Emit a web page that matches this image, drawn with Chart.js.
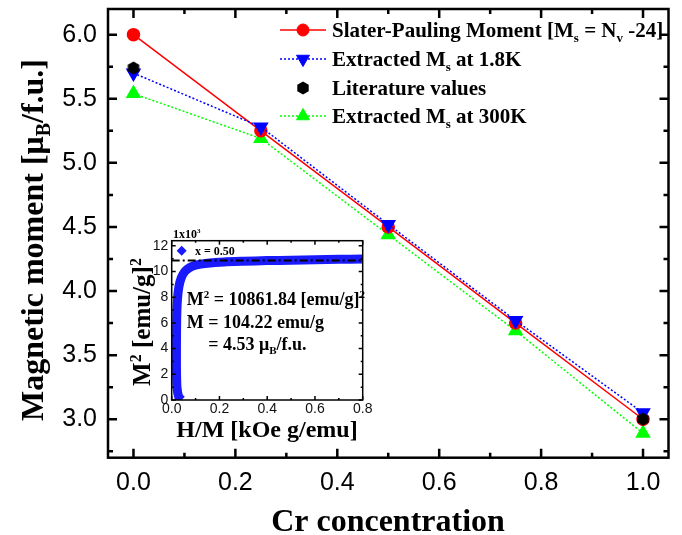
<!DOCTYPE html>
<html>
<head>
<meta charset="utf-8">
<script src="https://cdn.jsdelivr.net/npm/chart.js@4.4.1/dist/chart.umd.min.js"></script>
<style>
  body { margin: 0; background: #fff; }
  #wrap { position: relative; width: 682px; height: 535px; }
  #main { position: absolute; left: 0; top: 0; }
  #inset { position: absolute; left: 120px; top: 222px; }
</style>
</head>
<body>
<div id="wrap">
  <canvas id="main" width="682" height="535"></canvas>
  <canvas id="inset" width="255" height="225"></canvas>
</div>
<script>
// Cr content and moments (muB per formula unit)
var crConc = [0, 0.25, 0.5, 0.75, 1.0];
var slaterPauling = [6.0, 5.25, 4.5, 3.75, 3.0];
var msLowT = [5.70, 5.28, 4.52, 3.77, 3.05];
var msRoomT = [5.54, 5.19, 4.44, 3.69, 2.89];
var litConc = [0, 1.0];
var litMoment = [5.74, 3.0];

var xTickValues = [0, 0.2, 0.4, 0.6, 0.8, 1.0];
var yTickValues = [3.0, 3.5, 4.0, 4.5, 5.0, 5.5, 6.0];

// Arrott plot for x = 0.50 (M^2 in units of 1x10^3)
var hmInset = [0.042, 0.030, 0.022, 0.020, 0.020, 0.021, 0.024, 0.030, 0.040, 0.055, 0.075, 0.10, 0.15, 0.22, 0.30, 0.40, 0.50, 0.60, 0.70, 0.80];
var m2Inset = [0.0, 0.2, 1.0, 2.5, 4.5, 6.5, 7.8, 8.8, 9.5, 10.0, 10.3, 10.5, 10.65, 10.75, 10.8, 10.85, 10.88, 10.92, 10.95, 10.98];
var m2Fit = 10861.84 / 1000;
var hmFit = [0, 0.8];
var insetXTicks = [0, 0.2, 0.4, 0.6, 0.8];
var insetYTicks = [0, 2, 4, 6, 8, 10, 12];

var SERIF = '"Liberation Serif", "Times New Roman", serif';
var SANS = '"Liberation Sans", Arial, sans-serif';

function xy(xs, ys) {
    return xs.map(function (v, i) { return { x: v, y: ys[i] }; });
}

function fixedTicks(values) {
    return function (s) {
        s.ticks = values.map(function (v) { return { value: v }; });
    };
}

// keep the plot area where the layout puts it (no extra room for half labels)
function noLabelPadding(size, prop) {
    return function (s) {
        s[prop] = size;
        s.paddingTop = 0; s.paddingBottom = 0;
        s.paddingLeft = 0; s.paddingRight = 0;
    };
}

// black hexagon marker
var hex = document.createElement('canvas');
hex.width = 14; hex.height = 14;
(function () {
    var c = hex.getContext('2d');
    c.fillStyle = '#000';
    c.beginPath();
    for (var k = 0; k < 6; k++) {
        var a = Math.PI / 3 * k;
        c.lineTo(7 + 6.6 * Math.sin(a), 7 - 6.6 * Math.cos(a));
    }
    c.closePath();
    c.fill();
})();

// text with sub/superscripts: parts = [[text, 0 normal | 1 sub | 2 sup], ...]
function richText(ctx, parts, x, y, size, align) {
    var small = Math.round(size * 0.62);
    var w = 0;
    parts.forEach(function (p) {
        ctx.font = 'bold ' + (p[1] ? small : size) + 'px ' + SERIF;
        w += ctx.measureText(p[0]).width;
    });
    var cx = align === 'center' ? x - w / 2 : x;
    ctx.textAlign = 'left';
    ctx.textBaseline = 'alphabetic';
    parts.forEach(function (p) {
        ctx.font = 'bold ' + (p[1] ? small : size) + 'px ' + SERIF;
        var dy = p[1] === 1 ? size * 0.22 : (p[1] === 2 ? -size * 0.38 : 0);
        ctx.fillText(p[0], cx, y + dy);
        cx += ctx.measureText(p[0]).width;
    });
}

function frameTicks(chart, lw, major, minor) {
    var ctx = chart.ctx, a = chart.chartArea;
    ctx.save();
    ctx.strokeStyle = '#000';
    ctx.lineWidth = lw;
    ctx.strokeRect(a.left, a.top, a.right - a.left, a.bottom - a.top);
    ['x', 'y'].forEach(function (id) {
        var s = chart.scales[id];
        var vals = s.ticks.map(function (t) { return t.value; });
        var step = vals[1] - vals[0];
        var minors = [];
        for (var i = -1; i < vals.length; i++) {
            var m = (i < 0 ? vals[0] - step : vals[i]) + step / 2;
            if (m > s.min && m < s.max) minors.push(m);
        }
        ctx.beginPath();
        [[vals, major], [minors, minor]].forEach(function (set) {
            set[0].forEach(function (v) {
                var p = s.getPixelForValue(v);
                if (id === 'x') {
                    ctx.moveTo(p, a.bottom); ctx.lineTo(p, a.bottom - set[1]);
                    ctx.moveTo(p, a.top); ctx.lineTo(p, a.top + set[1]);
                } else {
                    ctx.moveTo(a.left, p); ctx.lineTo(a.left + set[1], p);
                    ctx.moveTo(a.right, p); ctx.lineTo(a.right - set[1], p);
                }
            });
        });
        ctx.stroke();
    });
    ctx.restore();
}

var legendRows = [
    { parts: [['Slater-Pauling Moment [M', 0], ['s', 1], [' = N', 0], ['v', 1], [' -24]', 0]], color: '#ff0000', dash: [], line: true, style: 'circle', r: 6, rot: 0 },
    { parts: [['Extracted M', 0], ['s', 1], [' at 1.8K', 0]], color: '#0000ff', dash: [2, 2], line: true, style: 'triangle', r: 7.5, rot: 180 },
    { parts: [['Literature values', 0]], color: '#000', dash: [], line: false, style: hex, r: 6, rot: 0 },
    { parts: [['Extracted M', 0], ['s', 1], [' at 300K', 0]], color: '#00ff00', dash: [2, 2], line: true, style: 'triangle', r: 7.5, rot: 0 }
];
var legendY = [30, 59, 88, 116];

var mainDecor = {
    id: 'mainDecor',
    afterDraw: function (chart) {
        var ctx = chart.ctx;
        frameTicks(chart, 2.5, 9, 5);
        ctx.save();
        ctx.fillStyle = '#000';
        richText(ctx, [['Cr concentration', 0]], 388, 531, 32, 'center');
        ctx.save();
        ctx.translate(43, 240);
        ctx.rotate(-Math.PI / 2);
        richText(ctx, [['Magnetic moment [μ', 0], ['B', 1], ['/f.u.]', 0]], 0, 0, 32, 'center');
        ctx.restore();

        legendRows.forEach(function (row, i) {
            var y = legendY[i];
            if (row.line) {
                ctx.save();
                ctx.strokeStyle = row.color;
                ctx.lineWidth = 1.5;
                ctx.setLineDash(row.dash);
                ctx.beginPath();
                ctx.moveTo(280, y); ctx.lineTo(326, y);
                ctx.stroke();
                ctx.restore();
            }
            ctx.fillStyle = row.color;
            ctx.strokeStyle = row.color;
            Chart.helpers.drawPoint(ctx, { pointStyle: row.style, radius: row.r, rotation: row.rot, borderWidth: 1 }, 303, y);
            ctx.fillStyle = '#000';
            richText(ctx, row.parts, 332, y + 7, 21, 'left');
        });
        ctx.restore();
    }
};

new Chart(document.getElementById('main'), {
    type: 'line',
    data: {
        datasets: [{
            label: 'Literature values',
            data: xy(litConc, litMoment),
            showLine: false,
            pointStyle: hex,
            order: 0
        }, {
            label: 'Extracted Ms at 1.8K',
            data: xy(crConc, msLowT),
            borderColor: '#0000ff',
            backgroundColor: '#0000ff',
            borderWidth: 1.5,
            borderDash: [2, 2],
            pointStyle: 'triangle',
            rotation: 180,
            pointRadius: 7.5,
            order: 1
        }, {
            label: 'Slater-Pauling Moment',
            data: xy(crConc, slaterPauling),
            borderColor: '#ff0000',
            backgroundColor: '#ff0000',
            borderWidth: 1.5,
            pointStyle: 'circle',
            pointRadius: 6,
            order: 2
        }, {
            label: 'Extracted Ms at 300K',
            data: xy(crConc, msRoomT),
            borderColor: '#00ff00',
            backgroundColor: '#00ff00',
            borderWidth: 1.5,
            borderDash: [2, 2],
            pointStyle: 'triangle',
            pointRadius: 7.5,
            order: 3
        }]
    },
    options: {
        responsive: false,
        animation: false,
        layout: { padding: { top: 7.5, right: 13.5, left: 0, bottom: 0 } },
        plugins: { legend: { display: false }, tooltip: { enabled: false } },
        scales: {
            x: {
                type: 'linear', min: -0.05, max: 1.05,
                grid: { display: false, drawTicks: false },
                border: { display: false },
                afterBuildTicks: fixedTicks(xTickValues),
                ticks: {
                    autoSkip: false, maxRotation: 0,
                    padding: 10, color: '#000', font: { family: SANS, size: 25 },
                    callback: function (v) { return v.toFixed(1); }
                },
                afterFit: noLabelPadding(77.3, 'height')
            },
            y: {
                min: 2.7, max: 6.2,
                grid: { display: false, drawTicks: false },
                border: { display: false },
                afterBuildTicks: fixedTicks(yTickValues),
                ticks: {
                    autoSkip: false,
                    padding: 11, color: '#000', font: { family: SANS, size: 25 },
                    callback: function (v) { return v.toFixed(1); }
                },
                afterFit: noLabelPadding(108, 'width')
            }
        }
    },
    plugins: [mainDecor]
});

// inset: Arrott plot
var insetDecor = {
    id: 'insetDecor',
    afterDraw: function (chart) {
        var ctx = chart.ctx;
        frameTicks(chart, 1.5, 4, 2);
        ctx.save();
        ctx.fillStyle = '#000';
        richText(ctx, [['1x10', 0], ['3', 2]], 53, 16, 12, 'left');
        richText(ctx, [['H/M [kOe g/emu]', 0]], 147, 215, 24, 'center');
        ctx.save();
        ctx.translate(30, 100);
        ctx.rotate(-Math.PI / 2);
        richText(ctx, [['M', 0], ['2', 2], [' [emu/g]', 0], ['2', 2]], 0, 0, 25, 'center');
        ctx.restore();

        richText(ctx, [['M', 0], ['2', 2], [' = 10861.84 [emu/g]', 0], ['2', 2]], 66.7, 83, 18, 'left');
        richText(ctx, [['M = 104.22 emu/g', 0]], 66.7, 106, 18, 'left');
        richText(ctx, [['= 4.53 μ', 0], ['B', 1], ['/f.u.', 0]], 88.3, 128, 18, 'left');

        ctx.fillStyle = '#1a1aff';
        Chart.helpers.drawPoint(ctx, { pointStyle: 'rectRot', radius: 5, rotation: 0, borderWidth: 0 }, 61.7, 28.7);
        ctx.fillStyle = '#000';
        richText(ctx, [['x = 0.50', 0]], 75, 33, 12, 'left');
        ctx.restore();
    }
};

new Chart(document.getElementById('inset'), {
    type: 'line',
    data: {
        datasets: [{
            label: 'fit',
            data: xy(hmFit, [m2Fit, m2Fit]),
            borderColor: '#000',
            borderWidth: 2,
            borderDash: [8, 3, 2, 3],
            pointRadius: 0,
            order: 0
        }, {
            label: 'x = 0.50',
            data: xy(hmInset, m2Inset),
            borderColor: '#1a1aff',
            borderWidth: 9,
            pointRadius: 0,
            tension: 0.2,
            order: 1
        }]
    },
    options: {
        responsive: false,
        animation: false,
        layout: { padding: { top: 18.7, right: 12.3, left: 0, bottom: 0 } },
        plugins: { legend: { display: false }, tooltip: { enabled: false } },
        scales: {
            x: {
                type: 'linear', min: 0, max: 0.8,
                grid: { display: false, drawTicks: false },
                border: { display: false },
                afterBuildTicks: fixedTicks(insetXTicks),
                ticks: {
                    autoSkip: false, maxRotation: 0,
                    padding: 1, color: '#111', font: { family: SANS, size: 14 },
                    callback: function (v) { return v.toFixed(1); }
                },
                afterFit: noLabelPadding(47, 'height')
            },
            y: {
                min: 0, max: 12.4,
                grid: { display: false, drawTicks: false },
                border: { display: false },
                afterBuildTicks: fixedTicks(insetYTicks),
                ticks: {
                    autoSkip: false,
                    padding: 3.5, color: '#111', font: { family: SANS, size: 14 }
                },
                afterFit: noLabelPadding(51.7, 'width')
            }
        }
    },
    plugins: [insetDecor]
});
</script>
</body>
</html>
